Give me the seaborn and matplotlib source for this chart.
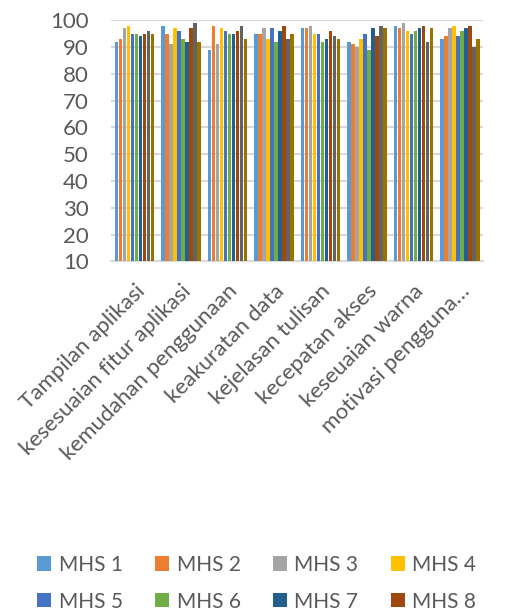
import matplotlib
matplotlib.use("Agg")
import matplotlib.pyplot as plt
from matplotlib.patches import Patch
import seaborn as sns
import pandas as pd

# Aspects rated in the questionnaire
aspek = [
    "Tampilan aplikasi",
    "kesesuaian fitur aplikasi",
    "kemudahan penggunaan",
    "keakuratan data",
    "kejelasan tulisan",
    "kecepatan akses",
    "keseuaian warna",
    "motivasi pengguna…",
]

# Score given by each student (MHS 1..10) per aspect
mhs1 = [92, 98, 89, 95, 97, 92, 98, 93]
mhs2 = [93, 95, 98, 95, 97, 91, 97, 94]
mhs3 = [97, 91, 91, 97, 98, 90, 99, 97]
mhs4 = [98, 97, 97, 93, 95, 93, 96, 98]
mhs5 = [95, 96, 96, 97, 95, 95, 95, 94]
mhs6 = [95, 93, 95, 92, 92, 89, 96, 96]
mhs7 = [94, 92, 95, 96, 93, 97, 97, 97]
mhs8 = [95, 97, 96, 98, 96, 94, 98, 98]
mhs9 = [96, 99, 98, 93, 94, 98, 92, 90]
mhs10 = [95, 92, 93, 95, 93, 97, 97, 93]

series = {
    "MHS 1": mhs1, "MHS 2": mhs2, "MHS 3": mhs3, "MHS 4": mhs4, "MHS 5": mhs5,
    "MHS 6": mhs6, "MHS 7": mhs7, "MHS 8": mhs8, "MHS 9": mhs9, "MHS 10": mhs10,
}

colors = ["#5B9BD5", "#ED7D31", "#A5A5A5", "#FFC000", "#4472C4",
          "#70AD47", "#255E91", "#9E480E", "#636363", "#997300"]

rows = []
for name, vals in series.items():
    for a, v in zip(aspek, vals):
        rows.append({"aspek": a, "mhs": name, "nilai": v})
df = pd.DataFrame(rows)

sns.set_theme(style="white")
plt.rcParams["font.family"] = ["Lato", "DejaVu Sans"]

text_color = "#595959"
grid_color = "#D9D9D9"

fig = plt.figure(figsize=(5.27, 6.12), dpi=100)
ax = fig.add_axes([0.211, 0.573, 0.706, 0.394])

sns.barplot(data=df, x="aspek", y="nilai", hue="mhs", palette=colors,
            order=aspek, hue_order=list(series.keys()),
            width=0.86, gap=0.18, saturation=1, linewidth=0,
            ax=ax, legend=False, zorder=3)

ax.set_ylim(10, 100)
ax.set_yticks(range(10, 101, 10))
ax.set_xlim(-0.5, len(aspek) - 0.5)
ax.yaxis.grid(True, color=grid_color, linewidth=1.5, zorder=0)
ax.set_axisbelow(True)
for s in ["top", "right", "left"]:
    ax.spines[s].set_visible(False)
ax.spines["bottom"].set_color(grid_color)
ax.spines["bottom"].set_linewidth(1.5)
ax.set_xlabel("")
ax.set_ylabel("")

ax.tick_params(axis="y", length=0, pad=16, labelsize=16, labelcolor=text_color)
ax.tick_params(axis="x", length=0, pad=14, labelsize=16, labelcolor=text_color)
for lbl in ax.get_xticklabels():
    lbl.set_rotation(45)
    lbl.set_ha("right")
    lbl.set_va("top")
    lbl.set_rotation_mode("anchor")

# Legend laid out row by row: MHS 1-4 on top, MHS 5-8 below
order = [0, 4, 1, 5, 2, 6, 3, 7]
names = list(series.keys())
handles = [Patch(facecolor=colors[i], edgecolor="none") for i in order]
labels = [names[i] for i in order]
fig.legend(handles, labels, loc="center", bbox_to_anchor=(0.487, 0.047), ncol=4,
           frameon=False, fontsize=15, labelcolor=text_color,
           handlelength=0.68, handleheight=0.68, handletextpad=0.35,
           columnspacing=1.55, labelspacing=0.8)

fig.savefig("out.png", dpi=100, facecolor="white")
